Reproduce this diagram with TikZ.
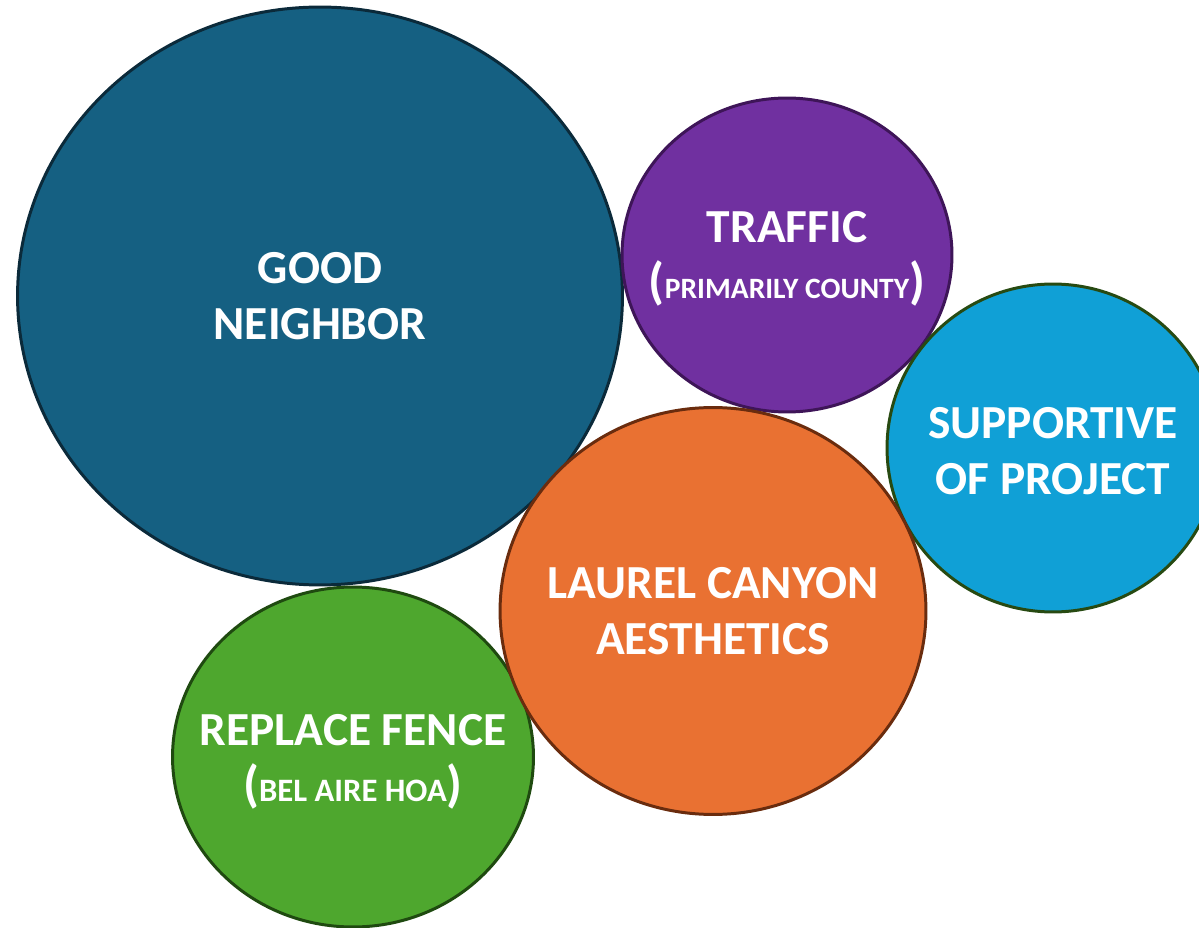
\documentclass[tikz,border=0pt]{standalone}
\usepackage{fontspec}
\setmainfont{Carlito}

\definecolor{neighborfill}{HTML}{156082}
\definecolor{neighborline}{HTML}{0B2A3A}
\definecolor{trafficfill}{HTML}{7030A0}
\definecolor{trafficline}{HTML}{3E1558}
\definecolor{supportfill}{HTML}{10A0D6}
\definecolor{supportline}{HTML}{274A12}
\definecolor{canyonfill}{HTML}{E97132}
\definecolor{canyonline}{HTML}{6A2C0E}
\definecolor{fencefill}{HTML}{4EA72E}
\definecolor{fenceline}{HTML}{1F4A10}

\tikzset{
	bubble/.style={line width=1.7pt},
	caption/.style={inner sep=0pt, text=white, align=center,
		font=\fontsize{27}{31.8}\selectfont\bfseries},
}

% small caps between big round brackets
\newcommand{\sidenote}[2][16.8]{{\fontsize{29}{31.8}\selectfont(}%
	{\fontsize{#1}{31.8}\selectfont #2}%
	{\fontsize{29}{31.8}\selectfont)}}

\begin{document}
\begin{tikzpicture}[x=0.02cm, y=-0.02cm]

% frame %{{{1

	\useasboundingbox (0,0) rectangle (1199,928);

% centres %{{{1

	\coordinate (neighbor) at (320,296);
	\coordinate (traffic) at (787,255);
	\coordinate (support) at (1053,448);
	\coordinate (fence) at (353,757);
	\coordinate (canyon) at (713,611);

% bubbles %{{{1

	\draw[bubble, fill=neighborfill, draw=neighborline]
		(neighbor) ellipse [x radius=6.05cm, y radius=5.78cm];
	\draw[bubble, fill=trafficfill, draw=trafficline]
		(traffic) ellipse [x radius=3.3cm, y radius=3.14cm];
	\draw[bubble, fill=supportfill, draw=supportline]
		(support) ellipse [x radius=3.32cm, y radius=3.28cm];
	\draw[bubble, fill=fencefill, draw=fenceline]
		(fence) ellipse [x radius=3.61cm, y radius=3.4cm];
	\draw[bubble, fill=canyonfill, draw=canyonline]
		(canyon) ellipse [x radius=4.26cm, y radius=4.07cm];

% captions %{{{1

	\node[caption] (neighbor text) at (neighbor) {GOOD\\NEIGHBOR};
	\node[caption] (traffic text) at ([yshift=-0.08cm]traffic)
		{TRAFFIC\\\sidenote{PRIMARILY COUNTY}};
	\node[caption] (support text) at ([yshift=-0.06cm]support)
		{SUPPORTIVE\\OF PROJECT};
	\node[caption] (fence text) at ([yshift=-0.1cm]fence)
		{REPLACE FENCE\\\sidenote[18.6]{BEL AIRE HOA}};
	\node[caption] (canyon text) at (canyon) {LAUREL CANYON\\AESTHETICS};

% closing %{{{1

\end{tikzpicture}
\end{document}
